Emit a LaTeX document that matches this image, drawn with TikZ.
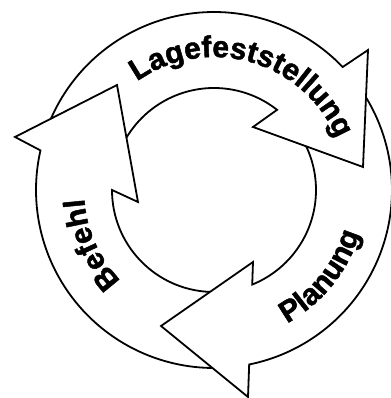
\documentclass[tikz,border=0pt]{standalone}
\usepackage{fontspec}
\setmainfont{Liberation Sans}[BoldFeatures={FakeBold=1.6}]
\usetikzlibrary{calc,decorations.text}

\begin{document}
\begin{tikzpicture}[x=1pt,y=1pt,
  ring/.style={line width=1.8pt,line join=miter,miter limit=20},
  ringtext/.style={decorate,decoration={text along path,text align=center,
    text={|\bfseries\fontsize{30}{30}\selectfont|#1}}}]
\useasboundingbox (0,0) rectangle (390,398);
\coordinate (c) at (214,208);

% Lagefeststellung
\draw[ring] ($(c)+(156.4:178)$) arc (156.4:43.7:178) -- (368,348) -- (363,231) -- (253,271) -- ($(c)+(51.8:102)$) arc (51.8:149.2:102);
% Planung
\draw[ring] ($(c)+(31.4:178)$) arc (31.4:-78.6:178) -- (248,1) -- (161,72) -- (253,136) -- ($(c)+(-68:102)$) arc (-68:25.3:102);
% Befehl
\draw[ring] ($(c)+(269.5:178)$) arc (269.5:167.15:178) -- (15,261) -- (117,313) -- (138,196) -- ($(c)+(180:102)$) arc (180:267.75:102);

\path[ringtext=Lagefeststellung] ($(c)+(140:133)$) arc (140:8:133);
\path[ringtext=Planung] ($(c)+(-72:152)$) arc (-72:-6:152);
\path[ringtext=Befehl] ($(c)+(232:130)$) arc (232:176:130);

\end{tikzpicture}
\end{document}
